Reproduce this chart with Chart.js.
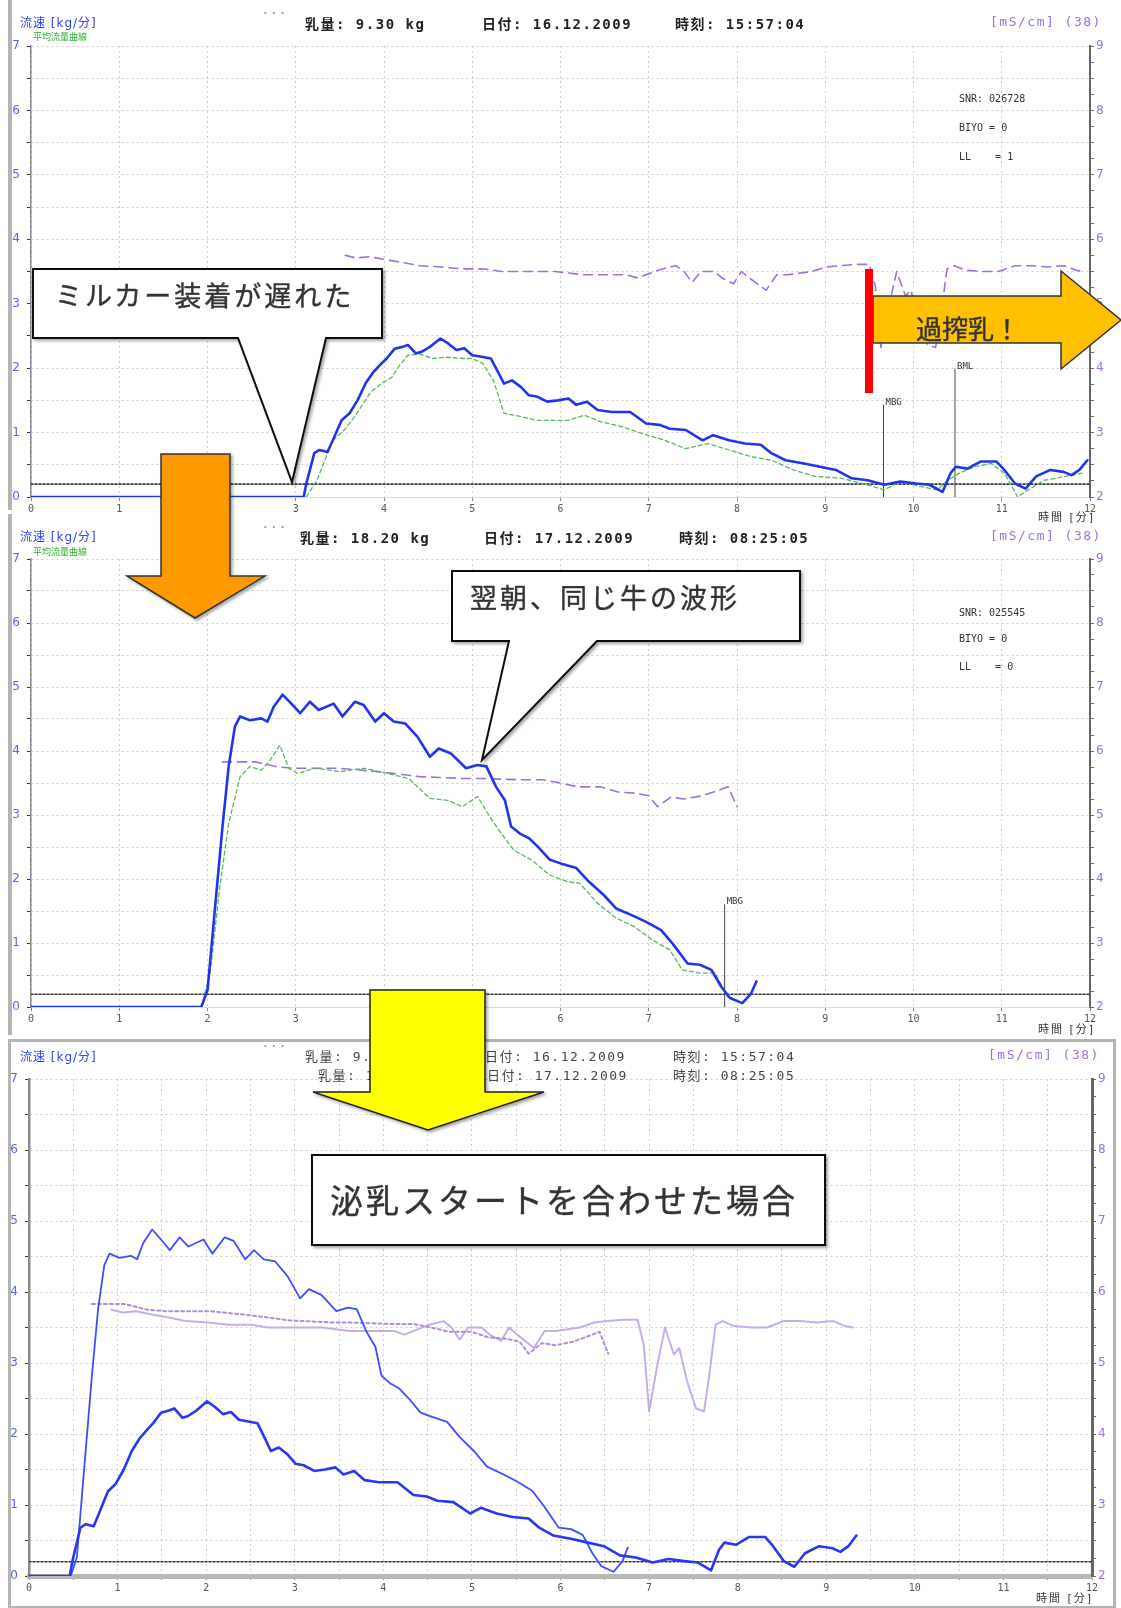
<!DOCTYPE html>
<html lang="ja">
<head>
<meta charset="utf-8">
<title>搾乳流量曲線の比較</title>
<script src="https://cdn.jsdelivr.net/npm/chart.js@4.4.1/dist/chart.umd.min.js"></script>
<style>
html,body{margin:0;padding:0;background:#fff;}
#page{position:relative;width:1121px;height:1608px;overflow:hidden;background:#fff;}
canvas{position:absolute;left:0;}
.t{position:absolute;white-space:pre;line-height:1;}
.hdr{font:bold 14px "DejaVu Sans Mono","Noto Sans CJK JP",monospace;color:#222;letter-spacing:1.5px;}
.hdr2{font:13px "DejaVu Sans Mono","Noto Sans CJK JP",monospace;color:#444;letter-spacing:1.5px;}
.ytitle{font:12px "DejaVu Sans","Noto Sans CJK JP",sans-serif;color:#3344ee;letter-spacing:1px;}
.avg{font:9px "Noto Sans CJK JP",sans-serif;color:#33aa33;}
.ctitle{font:13px "DejaVu Sans Mono","Noto Sans CJK JP",monospace;color:#a070d8;letter-spacing:1.5px;}
.xtitle{font:11px "DejaVu Sans","Noto Sans CJK JP",sans-serif;color:#333;letter-spacing:2px;}
.info{font:10px "DejaVu Sans Mono","Noto Sans CJK JP",monospace;color:#333;}
.dots{font:bold 11px "DejaVu Sans Mono",monospace;color:#999;letter-spacing:2px;}
.frame{position:absolute;background:#b4b4b4;}
#box3{position:absolute;left:8px;top:1039px;width:1102px;height:564px;border:3px solid #b4b4b4;}
#ov{position:absolute;left:0;top:0;z-index:5;pointer-events:none;}
#ov text{font-family:"Noto Sans CJK JP",sans-serif;fill:#333;stroke:#333;stroke-width:0.4px;}
</style>
</head>
<body>
<div id="page">
  <div class="frame" style="left:8px;top:0;width:4px;height:510px;"></div>
  <div class="frame" style="left:8px;top:514px;width:4px;height:521px;"></div>
  <div id="box3"></div>

  <canvas id="cTop" width="1121" height="515" style="top:0"></canvas>
  <canvas id="cMid" width="1121" height="515" style="top:515px"></canvas>
  <canvas id="cBot" width="1121" height="573" style="top:1035px"></canvas>

  <!-- evening milking header -->
  <div class="t ytitle" style="left:20px;top:13px;">流速 [kg/分]</div>
  <div class="t avg" style="left:33px;top:30px;">平均流量曲線</div>
  <div class="t dots" style="left:262px;top:7px;">···</div>
  <div class="t hdr" style="left:305px;top:13px;">乳量: 9.30 kg</div>
  <div class="t hdr" style="left:482px;top:13px;">日付: 16.12.2009</div>
  <div class="t hdr" style="left:675px;top:13px;">時刻: 15:57:04</div>
  <div class="t ctitle" style="left:990px;top:14px;">[mS/cm] (38)</div>
  <div class="t info" style="left:959px;top:93px;">SNR: 026728</div>
  <div class="t info" style="left:959px;top:122px;">BIYO = 0</div>
  <div class="t info" style="left:959px;top:151px;">LL    = 1</div>
  <div class="t xtitle" style="left:1038px;top:508px;">時間 [分]</div>

  <!-- next morning header -->
  <div class="t ytitle" style="left:20px;top:527px;">流速 [kg/分]</div>
  <div class="t avg" style="left:33px;top:545px;">平均流量曲線</div>
  <div class="t dots" style="left:262px;top:521px;">···</div>
  <div class="t hdr" style="left:300px;top:527px;">乳量: 18.20 kg</div>
  <div class="t hdr" style="left:484px;top:527px;">日付: 17.12.2009</div>
  <div class="t hdr" style="left:679px;top:527px;">時刻: 08:25:05</div>
  <div class="t ctitle" style="left:990px;top:528px;">[mS/cm] (38)</div>
  <div class="t info" style="left:959px;top:607px;">SNR: 025545</div>
  <div class="t info" style="left:959px;top:633px;">BIYO = 0</div>
  <div class="t info" style="left:959px;top:661px;">LL    = 0</div>
  <div class="t xtitle" style="left:1038px;top:1020px;">時間 [分]</div>

  <!-- overlay header -->
  <div class="t ytitle" style="left:20px;top:1047px;">流速 [kg/分]</div>
  <div class="t dots" style="left:262px;top:1040px;">···</div>
  <div class="t hdr2" style="left:305px;top:1046px;">乳量: 9.30 kg</div>
  <div class="t hdr2" style="left:485px;top:1046px;">日付: 16.12.2009</div>
  <div class="t hdr2" style="left:673px;top:1046px;">時刻: 15:57:04</div>
  <div class="t hdr2" style="left:318px;top:1065px;">乳量: 18.20 kg</div>
  <div class="t hdr2" style="left:487px;top:1065px;">日付: 17.12.2009</div>
  <div class="t hdr2" style="left:673px;top:1065px;">時刻: 08:25:05</div>
  <div class="t ctitle" style="left:988px;top:1047px;">[mS/cm] (38)</div>
  <div class="t xtitle" style="left:1036px;top:1589px;">時間 [分]</div>

  <svg id="ov" width="1121" height="1608" viewBox="0 0 1121 1608">
    <defs>
      <filter id="sh" x="-10%" y="-10%" width="130%" height="130%">
        <feDropShadow dx="2" dy="2" stdDeviation="1.5" flood-color="#000" flood-opacity="0.35"/>
      </filter>
    </defs>
    <!-- callout: late cluster attachment -->
    <path d="M33 269 H382 V338 H326 L292 482 L238 338 H33 Z" fill="#fff" stroke="#111" stroke-width="2" filter="url(#sh)"/>
    <text x="55" y="306" font-size="27" letter-spacing="3">ミルカー装着が遅れた</text>
    <!-- down arrow into the next-morning panel -->
    <polygon points="161,454 230,454 230,576 265,576 195,618 127,576 161,576" fill="#ff9900" stroke="#333" stroke-width="1.5" filter="url(#sh)"/>
    <!-- over-milking arrow -->
    <polygon points="873,296 1061,296 1061,271 1121,320 1061,369 1061,343 873,343" fill="#ffc000" stroke="#333" stroke-width="1.5"/>
    <rect x="865" y="269" width="8" height="124" fill="#ff0000"/>
    <text x="916" y="339" font-size="26">過搾乳！</text>
    <!-- callout: same cow next morning -->
    <path d="M452 571 H800 V641 H597 L482 760 L509 641 H452 Z" fill="#fff" stroke="#111" stroke-width="2" filter="url(#sh)"/>
    <text x="470" y="608" font-size="27" letter-spacing="3">翌朝、同じ牛の波形</text>
    <!-- down arrow into the aligned panel -->
    <polygon points="370,990 485,990 485,1092 544,1092 428,1130 313,1092 370,1092" fill="#ffff00" stroke="#222" stroke-width="1.5" filter="url(#sh)"/>
    <!-- aligned-start caption -->
    <rect x="312" y="1155" width="513" height="90" fill="#fff" stroke="#111" stroke-width="2" filter="url(#sh)"/>
    <text x="330" y="1213" font-size="33" letter-spacing="3">泌乳スタートを合わせた場合</text>
  </svg>
</div>

<script>
// ---- evening milking (16.12.2009 15:57) ----
const eveFlowT = [
  0, 3.09, 3.12, 3.21, 3.27, 3.36, 3.42, 3.52, 3.61, 3.70,
  3.79, 3.88, 3.97, 4.03, 4.12, 4.21, 4.27, 4.36, 4.42, 4.52,
  4.64, 4.73, 4.82, 4.91, 5.00, 5.09, 5.21, 5.30, 5.36, 5.45,
  5.55, 5.64, 5.73, 5.85, 5.97, 6.09, 6.18, 6.30, 6.42, 6.58,
  6.79, 6.97, 7.12, 7.24, 7.42, 7.61, 7.73, 7.91, 8.09, 8.27,
  8.39, 8.55, 8.76, 8.94, 9.12, 9.30, 9.48, 9.67, 9.85, 10.03,
  10.18, 10.33, 10.42, 10.48, 10.61, 10.76, 10.94, 11.03, 11.15, 11.27,
  11.39, 11.55, 11.70, 11.79, 11.88, 11.97
];
const eveFlowV = [
  0, 0, 0.21, 0.68, 0.73, 0.70, 0.88, 1.19, 1.30, 1.50,
  1.76, 1.94, 2.07, 2.15, 2.30, 2.33, 2.36, 2.23, 2.25, 2.33,
  2.46, 2.38, 2.28, 2.31, 2.20, 2.18, 2.15, 1.92, 1.76, 1.81,
  1.71, 1.58, 1.56, 1.48, 1.50, 1.53, 1.43, 1.48, 1.35, 1.32,
  1.32, 1.14, 1.12, 1.06, 1.04, 0.88, 0.96, 0.88, 0.83, 0.81,
  0.68, 0.57, 0.52, 0.47, 0.42, 0.29, 0.26, 0.19, 0.24, 0.21,
  0.19, 0.08, 0.37, 0.47, 0.44, 0.55, 0.55, 0.42, 0.21, 0.13,
  0.32, 0.42, 0.39, 0.34, 0.42, 0.57
];
const eveAvgT = [
  3.12, 3.24, 3.42, 3.55, 3.67, 3.85, 3.97, 4.09, 4.18, 4.27,
  4.40, 4.55, 4.70, 4.90, 5.00, 5.12, 5.24, 5.36, 5.48, 5.73,
  6.09, 6.27, 6.45, 6.70, 6.94, 7.18, 7.42, 7.67, 7.91, 8.15,
  8.39, 8.64, 8.88, 9.18, 9.42, 9.67, 9.85, 10.09, 10.27, 10.39,
  10.52, 10.70, 10.88, 11.03, 11.18, 11.30, 11.48, 11.73, 11.91
];
const eveAvgV = [
  0, 0.26, 0.88, 1.04, 1.25, 1.63, 1.76, 1.86, 2.05, 2.20,
  2.22, 2.15, 2.17, 2.15, 2.15, 2.07, 1.81, 1.30, 1.27, 1.19,
  1.19, 1.27, 1.17, 1.09, 0.98, 0.88, 0.75, 0.83, 0.73, 0.63,
  0.57, 0.42, 0.32, 0.29, 0.21, 0.11, 0.24, 0.16, 0.11, 0.26,
  0.37, 0.47, 0.52, 0.37, 0.0, 0.11, 0.26, 0.32, 0.37
];
const eveCondT = [
  3.56, 3.69, 3.84, 4.03, 4.21, 4.40, 4.65, 4.89, 5.14, 5.33,
  5.64, 5.94, 6.25, 6.50, 6.75, 6.87, 7.15, 7.31, 7.40, 7.49,
  7.59, 7.74, 7.83, 7.96, 8.05, 8.14, 8.33, 8.45, 8.58, 8.85,
  9.01, 9.16, 9.35, 9.50, 9.57, 9.63, 9.73, 9.81, 9.91, 9.97,
  10.06, 10.16, 10.25, 10.31, 10.38, 10.46, 10.59, 10.78, 10.96, 11.15,
  11.34, 11.52, 11.71, 11.84, 11.93
];
const eveCondV = [
  5.75, 5.71, 5.73, 5.68, 5.64, 5.59, 5.57, 5.54, 5.54, 5.50,
  5.50, 5.50, 5.45, 5.45, 5.45, 5.40, 5.54, 5.59, 5.50, 5.33,
  5.50, 5.50, 5.40, 5.31, 5.50, 5.40, 5.21, 5.45, 5.45, 5.50,
  5.57, 5.59, 5.61, 5.61, 5.26, 4.32, 5.02, 5.50, 5.12, 5.21,
  4.74, 4.36, 4.32, 4.83, 5.54, 5.59, 5.52, 5.50, 5.50, 5.59,
  5.59, 5.57, 5.59, 5.52, 5.50
];
const eveMarkT = [9.66, 10.47];
const eveMarkTop = [1.43, 1.99];
const eveMarkLabel = ['MBG', 'BML'];

// ---- next morning milking (17.12.2009 08:25) ----
const mornFlowT = [
  0, 1.93, 2.00, 2.10, 2.17, 2.24, 2.31, 2.37, 2.48, 2.61,
  2.68, 2.75, 2.85, 2.95, 3.05, 3.16, 3.26, 3.43, 3.53, 3.67,
  3.77, 3.90, 4.00, 4.11, 4.24, 4.38, 4.52, 4.62, 4.76, 4.93,
  5.06, 5.16, 5.27, 5.37, 5.44, 5.54, 5.64, 5.74, 5.88, 6.01,
  6.18, 6.32, 6.49, 6.63, 6.80, 6.97, 7.14, 7.27, 7.44, 7.58,
  7.71, 7.82, 7.92, 8.06, 8.16, 8.22
];
const mornFlowV = [
  0, 0, 0.26, 1.77, 2.82, 3.76, 4.38, 4.54, 4.48, 4.51,
  4.46, 4.69, 4.88, 4.74, 4.59, 4.77, 4.64, 4.74, 4.54, 4.77,
  4.72, 4.46, 4.59, 4.46, 4.43, 4.22, 3.91, 4.04, 3.96, 3.73,
  3.78, 3.76, 3.44, 3.23, 2.82, 2.71, 2.64, 2.51, 2.30, 2.24,
  2.17, 1.96, 1.75, 1.54, 1.44, 1.33, 1.20, 0.99, 0.68, 0.66,
  0.58, 0.32, 0.14, 0.06, 0.21, 0.40
];
const mornAvgT = [
  1.93, 2.03, 2.14, 2.24, 2.37, 2.48, 2.61, 2.71, 2.82, 2.92,
  3.02, 3.22, 3.50, 3.77, 4.04, 4.28, 4.38, 4.52, 4.72, 4.89,
  5.06, 5.20, 5.33, 5.47, 5.67, 5.88, 6.08, 6.22, 6.42, 6.63,
  6.83, 7.04, 7.24, 7.38, 7.58, 7.75, 7.89, 8.00
];
const mornAvgV = [
  0, 0.53, 1.88, 2.87, 3.60, 3.76, 3.70, 3.86, 4.09, 3.73,
  3.65, 3.73, 3.68, 3.73, 3.65, 3.57, 3.44, 3.26, 3.23, 3.13,
  3.29, 2.97, 2.71, 2.45, 2.30, 2.06, 1.96, 1.93, 1.62, 1.39,
  1.26, 1.05, 0.89, 0.58, 0.53, 0.53, 0.16, 0.11
];
const mornCondT = [
  2.17, 2.54, 2.80, 3.00, 3.50, 3.90, 4.10, 4.40, 4.90, 5.10,
  5.55, 5.80, 6.00, 6.20, 6.45, 6.65, 6.85, 7.00, 7.10, 7.25,
  7.40, 7.60, 7.80, 7.90, 8.00
];
const mornCondV = [
  5.83, 5.83, 5.75, 5.73, 5.73, 5.68, 5.65, 5.60, 5.57, 5.57,
  5.55, 5.55, 5.50, 5.44, 5.44, 5.36, 5.34, 5.30, 5.13, 5.28,
  5.25, 5.30, 5.39, 5.44, 5.13
];
const mornMarkT = [7.86];
const mornMarkTop = [1.60];
const mornMarkLabel = ['MBG'];

// time at which each milking's flow started, used to line both up at 0.47 min
const eveStartShift = 2.63;
const mornStartShift = 1.46;

// axis ranges and the low-flow threshold line
const timeRange = [0, 12];
const flowRange = [0, 7];
const condRange = [2, 9];
const flowThreshold = 0.2;

// ---------- helpers ----------
const pts = (T, V, shift) => T.map((t, i) => ({ x: t - (shift || 0), y: V[i] }));

function series(T, V, shift, style) {
  return Object.assign({ data: pts(T, V, shift), yAxisID: 'y', pointRadius: 0, fill: false }, style);
}

function thresholdSet() {
  return {
    data: [{ x: timeRange[0], y: flowThreshold }, { x: timeRange[1], y: flowThreshold }],
    yAxisID: 'y', borderColor: '#333', borderWidth: 1.6, borderDash: [2, 2], pointRadius: 0, order: 9
  };
}

function markSets(T, top, labels) {
  return T.map((t, i) => ({
    data: [{ x: t, y: 0 }, { x: t, y: top[i] }],
    yAxisID: 'y', borderColor: '#444', borderWidth: 1, pointRadius: 0, order: 8, markLabel: labels[i]
  }));
}

const markLabelPlugin = {
  id: 'markLabels',
  afterDatasetsDraw(chart) {
    const ctx = chart.ctx;
    chart.data.datasets.forEach((ds, i) => {
      if (!ds.markLabel) return;
      const p = chart.getDatasetMeta(i).data[1];
      ctx.save();
      ctx.font = '9px "DejaVu Sans Mono"';
      ctx.fillStyle = '#333';
      ctx.textBaseline = 'bottom';
      ctx.fillText(ds.markLabel, p.x + 2, p.y + 2);
      ctx.restore();
    });
  }
};

const intOnly = v => (Math.abs(v - Math.round(v)) < 1e-6 ? String(Math.round(v)) : '');

function panel(id, lay, datasets) {
  return new Chart(document.getElementById(id), {
    type: 'line',
    data: { datasets },
    plugins: [markLabelPlugin],
    options: {
      responsive: false,
      animation: false,
      devicePixelRatio: 1,
      layout: { padding: { top: lay.top, left: 0, right: 0, bottom: 0 } },
      plugins: { legend: { display: false }, tooltip: { enabled: false } },
      elements: { line: { tension: 0, borderJoinStyle: 'round', borderCapStyle: 'round' }, point: { radius: 0 } },
      scales: {
        x: {
          type: 'linear', min: timeRange[0], max: timeRange[1],
          afterFit: s => { s.height = lay.xAxisH; },
          ticks: { stepSize: lay.xStep, autoSkip: false, maxRotation: 0, padding: 2, color: '#555',
                   font: { size: 10, family: 'DejaVu Sans Mono' }, callback: intOnly },
          grid: { color: '#cdcdcd', lineWidth: 1, tickLength: 4, tickColor: '#888' },
          border: { display: true, color: lay.baseColor, width: lay.baseWidth, dash: [2, 3] }
        },
        y: {
          position: 'left', min: flowRange[0], max: flowRange[1],
          afterFit: s => { s.width = lay.left; },
          ticks: { stepSize: 0.5, autoSkip: false, padding: 7, color: '#5566ee',
                   font: { size: 12, family: 'DejaVu Sans' }, callback: intOnly },
          grid: { color: '#cdcdcd', lineWidth: 1, tickLength: 4, tickColor: '#333' },
          border: { display: true, color: '#8a8a8a', width: lay.axisWidth, dash: [2, 3] }
        },
        y2: {
          position: 'right', min: condRange[0], max: condRange[1],
          afterFit: s => { s.width = 1121 - lay.right; },
          ticks: { stepSize: 0.25, autoSkip: false, padding: 2, color: '#a070d8',
                   font: { size: 12, family: 'DejaVu Sans' }, callback: intOnly },
          grid: { drawOnChartArea: false, tickLength: 4, tickColor: '#666' },
          border: { display: true, color: '#666', width: lay.axisWidth + 0.5 }
        }
      }
    }
  });
}

const flowBlue = '#2233ee';
const avgGreen = '#5cb85c';
const condPurple = '#a070d8';

// evening milking
panel('cTop', { top: 46, xAxisH: 18, left: 31, right: 1090, xStep: 1, baseColor: '#dddddd', baseWidth: 1, axisWidth: 1.5 }, [
  series(eveFlowT, eveFlowV, 0, { borderColor: flowBlue, borderWidth: 2.6, order: 0 }),
  series(eveAvgT, eveAvgV, 0, { borderColor: avgGreen, borderWidth: 1.3, borderDash: [4, 3], order: 1 }),
  series(eveCondT, eveCondV, 0, { borderColor: condPurple, borderWidth: 1.6, borderDash: [9, 6], yAxisID: 'y2', order: 2 }),
  thresholdSet(),
  ...markSets(eveMarkT, eveMarkTop, eveMarkLabel)
]);

// next morning milking
panel('cMid', { top: 44, xAxisH: 23, left: 31, right: 1090, xStep: 1, baseColor: '#dddddd', baseWidth: 1, axisWidth: 1.5 }, [
  series(mornFlowT, mornFlowV, 0, { borderColor: flowBlue, borderWidth: 2.6, order: 0 }),
  series(mornAvgT, mornAvgV, 0, { borderColor: avgGreen, borderWidth: 1.3, borderDash: [4, 3], order: 1 }),
  series(mornCondT, mornCondV, 0, { borderColor: condPurple, borderWidth: 1.6, borderDash: [9, 6], yAxisID: 'y2', order: 2 }),
  thresholdSet(),
  ...markSets(mornMarkT, mornMarkTop, mornMarkLabel)
]);

// both milkings aligned at the start of milk flow
panel('cBot', { top: 44, xAxisH: 32, left: 29, right: 1092, xStep: 0.5, baseColor: '#b8b8b8', baseWidth: 5, axisWidth: 2.5 }, [
  series(eveFlowT, eveFlowV, eveStartShift, { borderColor: '#2a36f0', borderWidth: 2.6, order: 0 }),
  series(mornFlowT, mornFlowV, mornStartShift, { borderColor: '#3d4dff', borderWidth: 1.8, order: 1 }),
  series(mornCondT, mornCondV, mornStartShift, { borderColor: '#b08ddc', borderWidth: 2, borderDash: [3, 3], yAxisID: 'y2', order: 2 }),
  series(eveCondT, eveCondV, eveStartShift, { borderColor: '#c7ade8', borderWidth: 2, yAxisID: 'y2', order: 3 }),
  thresholdSet()
]);
</script>
</body>
</html>
